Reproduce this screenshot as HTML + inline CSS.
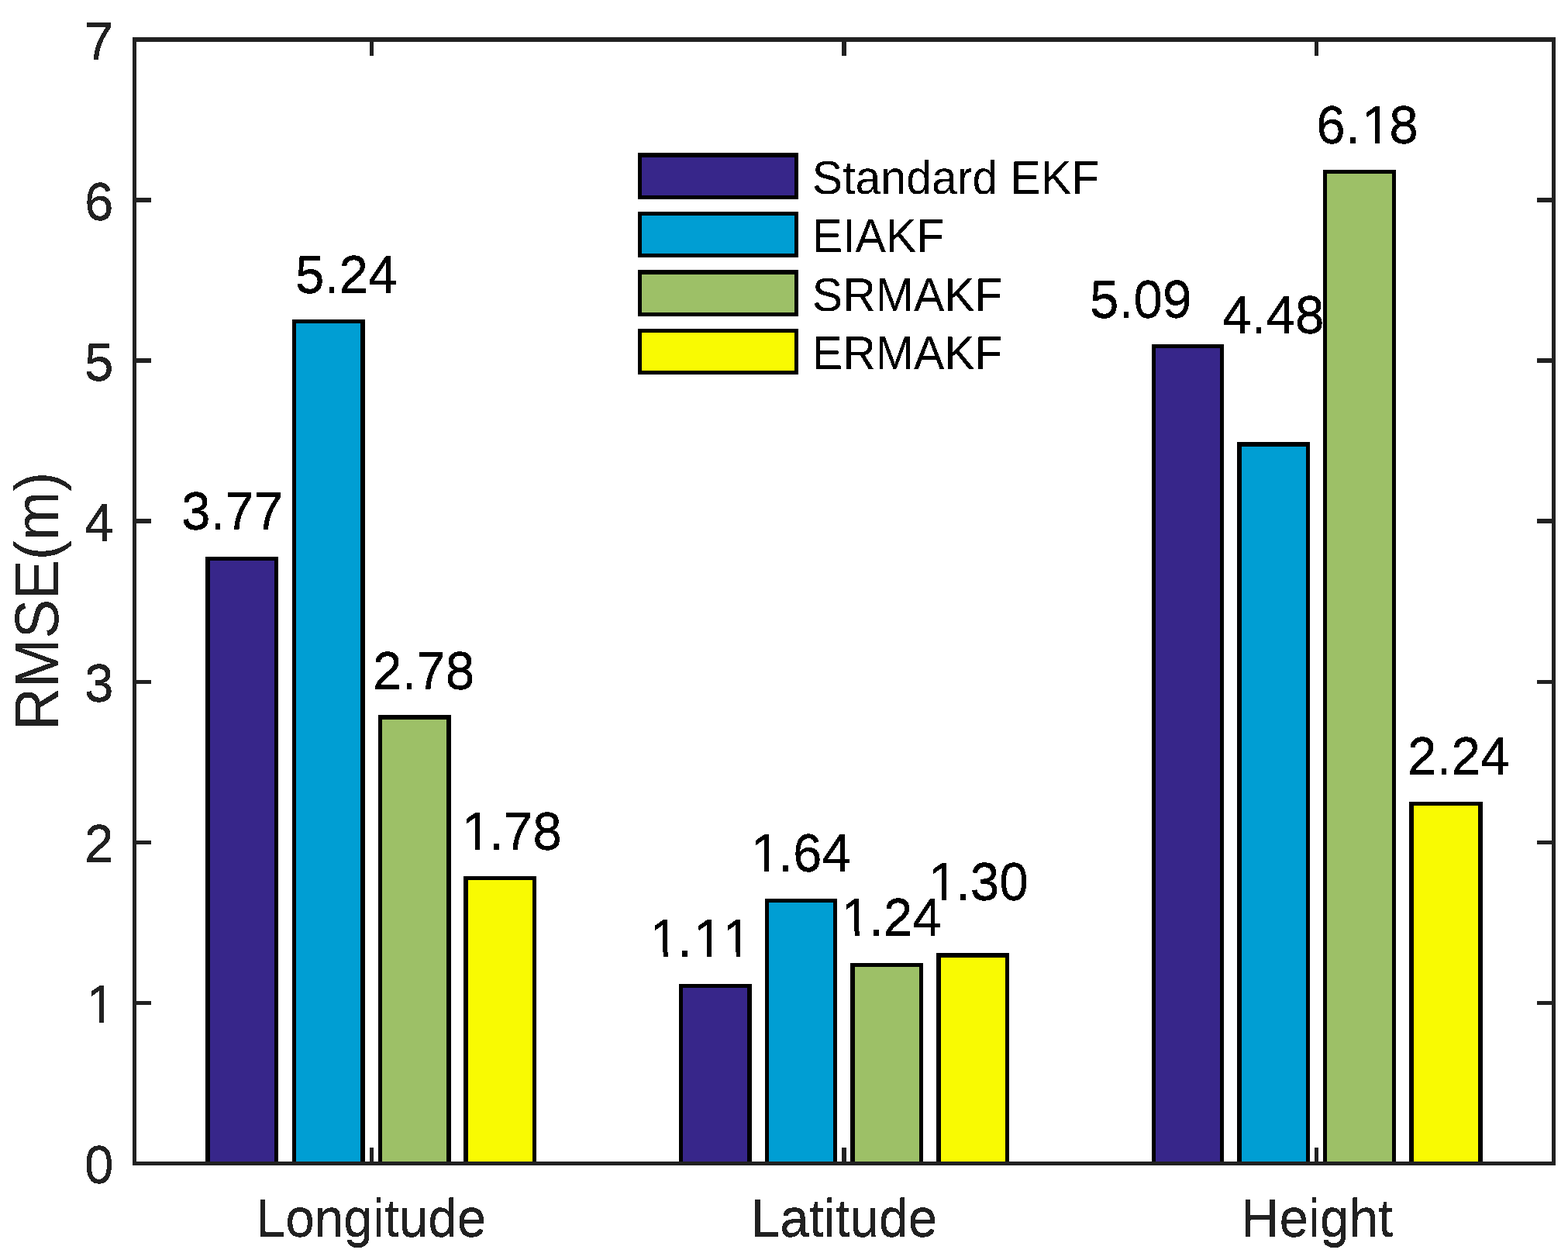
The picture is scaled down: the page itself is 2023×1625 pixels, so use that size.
<!DOCTYPE html>
<html lang="en"><head><meta charset="utf-8"><title>RMSE(m)</title>
<style>html,body{margin:0;padding:0;background:#fff}body{width:2023px;height:1625px;overflow:hidden}svg{display:block}text{font-family:"Liberation Sans", sans-serif;stroke-linejoin:miter;text-rendering:geometricPrecision;font-kerning:none;font-variant-ligatures:none;white-space:pre}</style>
</head><body>
<svg class="chart" width="2023" height="1625" viewBox="0 0 2023 1625" role="img">
<defs><filter id="hard" x="-5%" y="-20%" width="110%" height="140%" color-interpolation-filters="sRGB"><feComponentTransfer><feFuncA type="discrete" tableValues="0 1"/></feComponentTransfer></filter><filter id="hardv" x="-5%" y="-20%" width="110%" height="140%" color-interpolation-filters="sRGB"><feComponentTransfer in="SourceGraphic" result="t"><feFuncA type="discrete" tableValues="0 1"/></feComponentTransfer><feOffset in="t" dy="1" result="o"/><feMerge><feMergeNode in="t"/><feMergeNode in="o"/></feMerge></filter><clipPath id="c0"><rect x="-10" y="-81.97" width="57.99" height="76.07"/><rect x="-10.00" y="-6.40" width="15.96" height="26.40"/><rect x="19.45" y="-6.40" width="6.04" height="26.40"/><rect x="38.44" y="-6.40" width="9.55" height="26.40"/></clipPath><clipPath id="c1"><rect x="-10" y="-81.97" width="152.95" height="76.07"/><rect x="-10.00" y="-6.40" width="15.96" height="26.40"/><rect x="19.45" y="-6.40" width="6.04" height="26.40"/><rect x="38.44" y="-6.40" width="104.51" height="26.40"/></clipPath><clipPath id="c2"><rect x="-10" y="-81.97" width="152.95" height="76.07"/><rect x="-10.00" y="-6.40" width="15.96" height="26.40"/><rect x="19.45" y="-6.40" width="6.04" height="26.40"/><rect x="38.44" y="-6.40" width="24.49" height="26.40"/><rect x="76.41" y="-6.40" width="6.04" height="26.40"/><rect x="95.41" y="-6.40" width="5.51" height="26.40"/><rect x="114.41" y="-6.40" width="6.04" height="26.40"/><rect x="133.40" y="-6.40" width="9.55" height="26.40"/></clipPath><clipPath id="c3"><rect x="-10" y="-81.97" width="152.95" height="76.07"/><rect x="-10.00" y="-6.40" width="15.96" height="26.40"/><rect x="19.45" y="-6.40" width="6.04" height="26.40"/><rect x="38.44" y="-6.40" width="104.51" height="26.40"/></clipPath><clipPath id="c4"><rect x="-10" y="-81.97" width="152.95" height="76.07"/><rect x="-10.00" y="-6.40" width="15.96" height="26.40"/><rect x="19.45" y="-6.40" width="6.04" height="26.40"/><rect x="38.44" y="-6.40" width="104.51" height="26.40"/></clipPath><clipPath id="c5"><rect x="-10" y="-81.97" width="152.95" height="76.07"/><rect x="-10.00" y="-6.40" width="15.96" height="26.40"/><rect x="19.45" y="-6.40" width="6.04" height="26.40"/><rect x="38.44" y="-6.40" width="104.51" height="26.40"/></clipPath><clipPath id="c6"><rect x="-10" y="-81.97" width="152.95" height="76.07"/><rect x="-10.00" y="-6.40" width="72.92" height="26.40"/><rect x="76.41" y="-6.40" width="6.04" height="26.40"/><rect x="95.41" y="-6.40" width="47.54" height="26.40"/></clipPath></defs>
<rect x="0" y="0" width="2023" height="1625" fill="#ffffff"/>
<g class="bars" shape-rendering="crispEdges">
<rect x="265" y="718" width="94" height="783" fill="#000"/>
<rect x="271" y="723" width="83" height="778" fill="#37268A"/>
<rect x="377" y="412" width="94" height="1089" fill="#000"/>
<rect x="382" y="417" width="83" height="1084" fill="#009ED3"/>
<rect x="488" y="922" width="94" height="579" fill="#000"/>
<rect x="493" y="928" width="83" height="573" fill="#9DC067"/>
<rect x="598" y="1130" width="94" height="371" fill="#000"/>
<rect x="604" y="1135" width="83" height="366" fill="#F9FA02"/>
<rect x="876" y="1269" width="94" height="232" fill="#000"/>
<rect x="881" y="1274" width="83" height="227" fill="#37268A"/>
<rect x="987" y="1159" width="93" height="342" fill="#000"/>
<rect x="992" y="1164" width="83" height="337" fill="#009ED3"/>
<rect x="1097" y="1242" width="94" height="259" fill="#000"/>
<rect x="1103" y="1247" width="83" height="254" fill="#9DC067"/>
<rect x="1208" y="1229" width="94" height="272" fill="#000"/>
<rect x="1214" y="1235" width="83" height="266" fill="#F9FA02"/>
<rect x="1486" y="444" width="93" height="1057" fill="#000"/>
<rect x="1491" y="449" width="83" height="1052" fill="#37268A"/>
<rect x="1596" y="570" width="94" height="931" fill="#000"/>
<rect x="1602" y="576" width="83" height="925" fill="#009ED3"/>
<rect x="1707" y="219" width="94" height="1282" fill="#000"/>
<rect x="1712" y="224" width="84" height="1277" fill="#9DC067"/>
<rect x="1818" y="1034" width="95" height="467" fill="#000"/>
<rect x="1824" y="1039" width="83" height="462" fill="#F9FA02"/>
</g>
<g class="axes" fill="#212121" shape-rendering="crispEdges">
<rect x="171" y="48" width="1836" height="6"/>
<rect x="171" y="1498" width="1836" height="5"/>
<rect x="171" y="48" width="5" height="1455"/>
<rect x="2002" y="48" width="5" height="1455"/>
<rect x="477" y="48" width="5" height="24"/>
<rect x="477" y="1480" width="5" height="23"/>
<rect x="1086" y="48" width="6" height="24"/>
<rect x="1086" y="1480" width="6" height="23"/>
<rect x="1696" y="48" width="5" height="24"/>
<rect x="1696" y="1480" width="5" height="23"/>
<rect x="171" y="1291" width="24" height="5"/>
<rect x="1983" y="1291" width="24" height="5"/>
<rect x="171" y="1084" width="24" height="5"/>
<rect x="1983" y="1084" width="24" height="5"/>
<rect x="171" y="877" width="24" height="5"/>
<rect x="1983" y="877" width="24" height="5"/>
<rect x="171" y="669" width="24" height="6"/>
<rect x="1983" y="669" width="24" height="6"/>
<rect x="171" y="462" width="24" height="6"/>
<rect x="1983" y="462" width="24" height="6"/>
<rect x="171" y="255" width="24" height="6"/>
<rect x="1983" y="255" width="24" height="6"/>
</g>
<g class="y-ticks" fill="#212121" font-size="68.310" filter="url(#hardv)">
<text transform="translate(108.90,1525.20) scale(0.98961,1)" x="0.00">0</text>
<text transform="translate(108.90,1318.13) scale(0.98961,1)" clip-path="url(#c0)" x="2.27">1</text>
<text transform="translate(108.90,1111.06) scale(0.98961,1)" x="0.00">2</text>
<text transform="translate(108.90,903.99) scale(0.98961,1)" x="0.00">3</text>
<text transform="translate(108.90,696.91) scale(0.98961,1)" x="0.00">4</text>
<text transform="translate(108.90,489.84) scale(0.98961,1)" x="0.00">5</text>
<text transform="translate(108.90,282.77) scale(0.98961,1)" x="0.00">6</text>
<text transform="translate(108.90,75.70) scale(0.98961,1)" x="0.00">7</text>
</g>
<g class="x-ticks" fill="#212121" font-size="68.310" text-anchor="middle" filter="url(#hardv)">
<text transform="translate(479,1594) scale(0.98961,1)">Longitude</text>
<text transform="translate(1089,1594) scale(0.98961,1)">Latitude</text>
<text transform="translate(1699.3,1594) scale(0.98961,1)">Height</text>
</g>
<g class="y-label-wrap" filter="url(#hard)"><text class="y-label" fill="#212121" font-size="80.104" transform="translate(75,941.8) rotate(-90) scale(0.94877,1)">RMSE(m)</text></g>
<g class="values" fill="#000" font-size="68.310" filter="url(#hardv)">
<text transform="translate(233.96,682.00) scale(0.98961,1)" x="0.00 37.99 56.97 94.96">3.77</text>
<text transform="translate(381.00,377.00) scale(0.98961,1)" x="0.00 37.99 56.97 94.96">5.24</text>
<text transform="translate(480.90,888.00) scale(0.98961,1)" x="0.00 37.99 56.97 94.96">2.78</text>
<text transform="translate(593.40,1095.00) scale(0.98961,1)" clip-path="url(#c1)" x="2.27 37.99 56.97 94.96">1.78</text>
<text transform="translate(836.30,1233.00) scale(0.98961,1)" clip-path="url(#c2)" x="2.27 37.99 59.24 97.23">1.11</text>
<text transform="translate(966.50,1123.00) scale(0.98961,1)" clip-path="url(#c3)" x="2.27 37.99 56.97 94.96">1.64</text>
<text transform="translate(1083.30,1206.00) scale(0.98961,1)" clip-path="url(#c4)" x="2.27 37.99 56.97 94.96">1.24</text>
<text transform="translate(1195.40,1160.00) scale(0.98961,1)" clip-path="url(#c5)" x="2.27 37.99 56.97 94.96">1.30</text>
<text transform="translate(1406.10,409.00) scale(0.98961,1)" x="0.00 37.99 56.97 94.96">5.09</text>
<text transform="translate(1577.10,429.00) scale(0.98961,1)" x="0.00 37.99 56.97 94.96">4.48</text>
<text transform="translate(1698.30,184.00) scale(0.98961,1)" clip-path="url(#c6)" x="0.00 37.99 59.24 94.96">6.18</text>
<text transform="translate(1816.00,998.00) scale(0.98961,1)" x="0.00 37.99 56.97 94.96">2.24</text>
</g>
<g class="legend-swatches" shape-rendering="crispEdges">
<rect x="823" y="197" width="207" height="60" fill="#000"/>
<rect x="828" y="203" width="197" height="49" fill="#37268A"/>
<rect x="823" y="273" width="207" height="59" fill="#000"/>
<rect x="828" y="278" width="197" height="49" fill="#009ED3"/>
<rect x="823" y="348" width="207" height="60" fill="#000"/>
<rect x="828" y="354" width="197" height="49" fill="#9DC067"/>
<rect x="823" y="424" width="207" height="59" fill="#000"/>
<rect x="828" y="429" width="197" height="49" fill="#F9FA02"/>
</g>
<g class="legend-labels" fill="#000" font-size="60.888" filter="url(#hard)">
<text transform="translate(1047.8,249.5) scale(0.96899,1)">Standard EKF</text>
<text transform="translate(1047.8,325) scale(0.96899,1)">EIAKF</text>
<text transform="translate(1047.8,400.5) scale(0.96899,1)">SRMAKF</text>
<text transform="translate(1047.8,476) scale(0.96899,1)">ERMAKF</text>
</g>
</svg>
</body></html>
